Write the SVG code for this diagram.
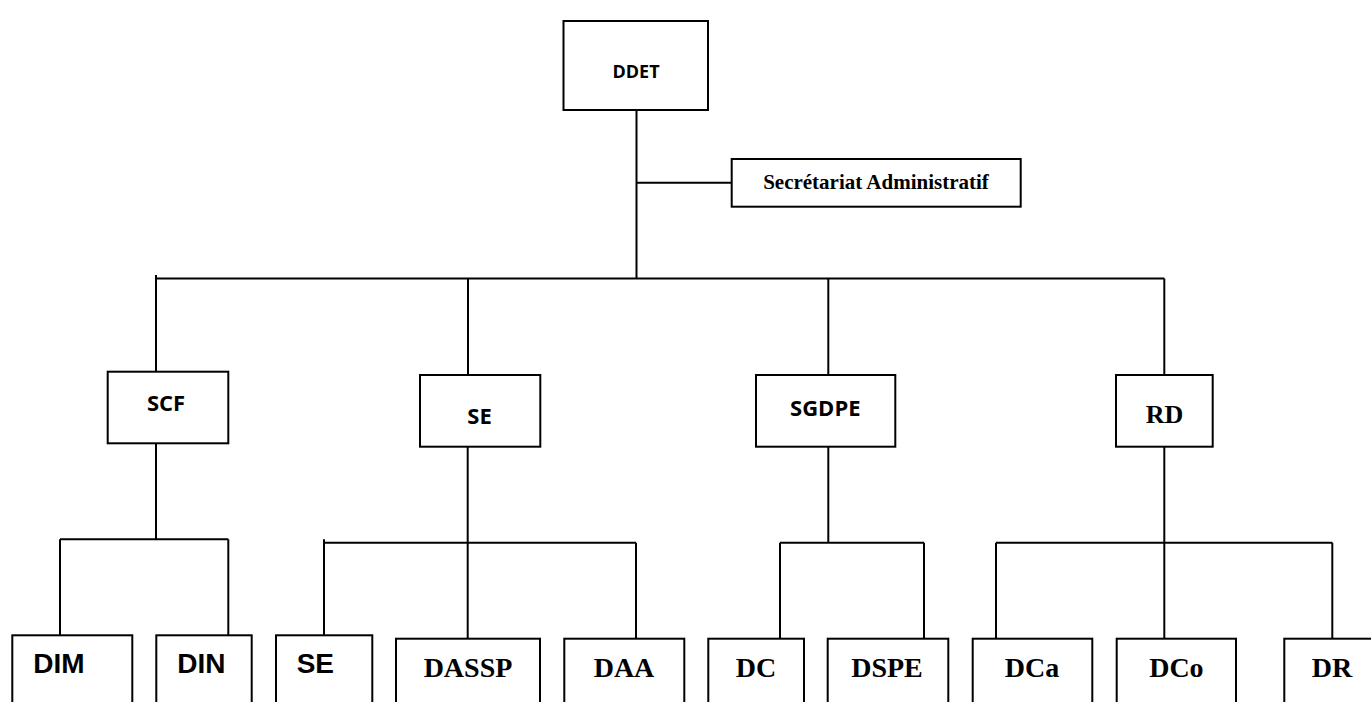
<svg xmlns="http://www.w3.org/2000/svg" width="1371" height="702" viewBox="0 0 1371 702">
<style>
.box{fill:#fff;stroke:#000;stroke-width:2}
.ln{fill:none;stroke:#000;stroke-width:2}
.cal{font-family:"Open Sans","Liberation Sans",sans-serif;font-weight:bold;fill:#000;text-anchor:middle}
.tnr{font-family:"Liberation Serif","Times New Roman",serif;font-weight:bold;fill:#000;text-anchor:middle}
.ari{font-family:"Liberation Sans",Arial,sans-serif;font-weight:bold;fill:#000;font-size:28px}
</style>
<rect width="1371" height="702" fill="#fff"/>
<g id="connectors">
<path class="ln" d="M636.5 110 V278.5"/>
<path class="ln" d="M636.5 182.7 H731.7"/>
<path class="ln" d="M156 278.5 H1164.3"/>
<path class="ln" d="M156 275 V371.7"/>
<path class="ln" d="M468 278.5 V375"/>
<path class="ln" d="M828.3 278.5 V375"/>
<path class="ln" d="M1164.3 278.5 V375"/>
<path class="ln" d="M156 443.3 V539.3"/>
<path class="ln" d="M60 539.3 H228.3"/>
<path class="ln" d="M60 539.3 V635.3"/>
<path class="ln" d="M228.3 539.3 V635.3"/>
<path class="ln" d="M324 542.7 H636"/>
<path class="ln" d="M324 539.3 V635.3"/>
<path class="ln" d="M467.7 446.7 V638.7"/>
<path class="ln" d="M636 542.7 V638.7"/>
<path class="ln" d="M828.3 446.7 V542.7"/>
<path class="ln" d="M780 542.7 H924"/>
<path class="ln" d="M780 542.7 V638.7"/>
<path class="ln" d="M924 542.7 V638.7"/>
<path class="ln" d="M1164.3 446.7 V638.7"/>
<path class="ln" d="M996 542.7 H1332.3"/>
<path class="ln" d="M996 542.7 V638.7"/>
<path class="ln" d="M1332.3 542.7 V638.7"/>
</g>
<g id="DDET"><rect class="box" x="563.5" y="21" width="144.5" height="89"/><text class="cal" x="636" y="77.5" font-size="18">DDET</text></g>
<g id="SecAdmin"><rect class="box" x="731.7" y="159" width="289" height="47.7"/><text class="tnr" x="876" y="189" font-size="21">Secrétariat Administratif</text></g>
<g id="SCF"><rect class="box" x="107.7" y="371.7" width="120.6" height="71.6"/><text class="cal" x="166" y="411" font-size="22">SCF</text></g>
<g id="SE"><rect class="box" x="420" y="375" width="120.3" height="71.7"/><text class="cal" x="479.5" y="424.3" font-size="22">SE</text></g>
<g id="SGDPE"><rect class="box" x="756" y="375" width="139.3" height="71.7"/><text class="cal" x="825.3" y="416" font-size="22">SGDPE</text></g>
<g id="RD"><rect class="box" x="1116" y="375" width="96.7" height="71.7"/><text class="tnr" x="1164.5" y="423.3" font-size="26">RD</text></g>
<g id="DIM"><rect class="box" x="12.3" y="635.3" width="120" height="80"/><text class="ari" x="33.3" y="672.7">DIM</text></g>
<g id="DIN"><rect class="box" x="156.3" y="635.3" width="95.4" height="80"/><text class="ari" x="177.3" y="672.7">DIN</text></g>
<g id="SE2"><rect class="box" x="276" y="635.3" width="96.3" height="80"/><text class="ari" x="296.7" y="672.7">SE</text></g>
<g id="DASSP"><rect class="box" x="396" y="638.7" width="144" height="80"/><text class="tnr" x="468" y="676.5" font-size="28">DASSP</text></g>
<g id="DAA"><rect class="box" x="564.3" y="638.7" width="120" height="80"/><text class="tnr" x="624" y="676.5" font-size="28">DAA</text></g>
<g id="DC"><rect class="box" x="708.3" y="638.7" width="95.7" height="80"/><text class="tnr" x="756" y="676.5" font-size="28">DC</text></g>
<g id="DSPE"><rect class="box" x="827.7" y="638.7" width="120.6" height="80"/><text class="tnr" x="887" y="676.5" font-size="28">DSPE</text></g>
<g id="DCa"><rect class="box" x="972.7" y="638.7" width="119.6" height="80"/><text class="tnr" x="1032" y="676.5" font-size="28">DCa</text></g>
<g id="DCo"><rect class="box" x="1116.7" y="638.7" width="119.3" height="80"/><text class="tnr" x="1176.4" y="676.5" font-size="28">DCo</text></g>
<g id="DR"><rect class="box" x="1284.3" y="638.7" width="96" height="80"/><text class="tnr" x="1332" y="676.5" font-size="28">DR</text></g>
</svg>
